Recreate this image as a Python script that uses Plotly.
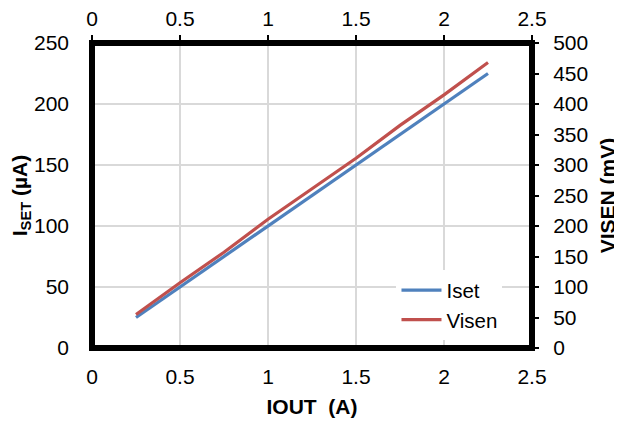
import plotly.graph_objects as go

iout = [0.25, 0.5, 0.75, 1.0, 1.25, 1.5, 1.75, 2.0, 2.25]
iset_uA = [25, 50, 75, 100, 125, 150, 175, 200, 225]
visen_mV = [55, 107, 157, 211, 261, 311, 365, 415, 468]

x_ticks = [0, 0.5, 1, 1.5, 2, 2.5]
x_ticktext = ["0", "0.5", "1", "1.5", "2", "2.5"]

FONT = "Liberation Sans, Arial, sans-serif"
FS = 21

fig = go.Figure()
fig.add_trace(go.Scatter(x=iout, y=iset_uA, name="Iset", mode="lines",
                         line=dict(color="#4F81BD", width=3.2), xaxis="x", yaxis="y"))
fig.add_trace(go.Scatter(x=iout, y=visen_mV, name="Visen", mode="lines",
                         line=dict(color="#C0504D", width=3.2), xaxis="x", yaxis="y2"))
# invisible trace to activate top axis
fig.add_trace(go.Scatter(x=[0, 2.5], y=[0, 0], mode="lines", showlegend=False,
                         line=dict(width=0), hoverinfo="skip", xaxis="x2", yaxis="y"))

fig.update_layout(
    width=614, height=418,
    margin=dict(l=84, r=90, t=35, b=78),
    paper_bgcolor="white", plot_bgcolor="white",
    font=dict(family=FONT, size=FS, color="black"),
    showlegend=True,
    legend=dict(x=0.692, y=0.255, xanchor="left", yanchor="top",
                bgcolor="white", borderwidth=0, font=dict(size=20.5),
                tracegroupgap=0, itemwidth=40),
    xaxis=dict(range=[0, 2.5], tickvals=x_ticks, ticktext=x_ticktext,
               showgrid=True, gridcolor="#d9d9d9", gridwidth=1.5,
               zeroline=False, showline=False, ticks="", automargin=False,
               ticklabelstandoff=14,
               title=dict(text="<b>IOUT  (A)</b>", font=dict(size=FS), standoff=12)),
    xaxis2=dict(range=[0, 2.5], tickvals=x_ticks, ticktext=x_ticktext,
                overlaying="x", side="top", showgrid=False, zeroline=False,
                ticks="outside", ticklen=7, tickwidth=1.5, tickcolor="black",
                automargin=False, ticklabelstandoff=1),
    yaxis=dict(range=[0, 250], dtick=50, showgrid=True, gridcolor="#d9d9d9",
               gridwidth=1.5, zeroline=False, showline=False, ticks="",
               automargin=False, ticklabelstandoff=22,
               title=dict(text="<b>I<sub>SET</sub> (µA)</b>", font=dict(size=FS), standoff=4)),
    yaxis2=dict(range=[0, 500], dtick=50, overlaying="y", side="right",
                showgrid=False, zeroline=False, ticks="outside", ticklen=6,
                tickwidth=1.5, tickcolor="black", ticklabelstandoff=10,
                automargin=False,
                title=dict(text="<b>VISEN (mV)</b>", font=dict(size=FS), standoff=13)),
)

fig.add_shape(type="rect", xref="paper", yref="paper", x0=0, x1=1, y0=0, y1=1,
              line=dict(color="black", width=6), fillcolor="rgba(0,0,0,0)", layer="above")

fig.write_html("out.html")
